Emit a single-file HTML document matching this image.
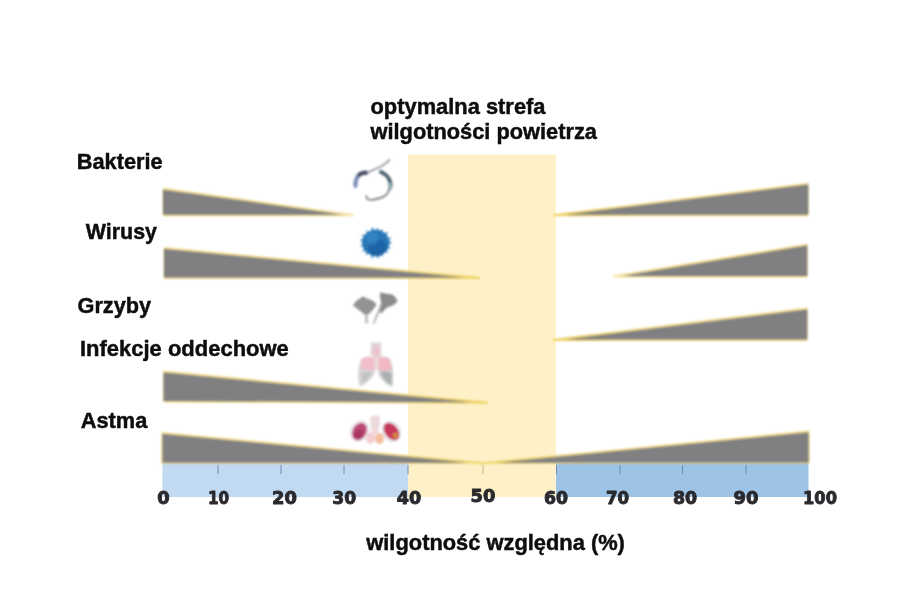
<!DOCTYPE html>
<html lang="pl">
<head>
<meta charset="utf-8">
<title>Optymalna strefa wilgotności powietrza</title>
<style>
  html,body{margin:0;padding:0;background:#fff;}
  body{width:915px;height:600px;overflow:hidden;position:relative;}
  svg{position:absolute;left:0;top:0;display:block;}
  text{font-family:"Liberation Sans",sans-serif;font-weight:bold;fill:#0a0a0a;}
  .ax text{font-family:"DejaVu Sans","Liberation Sans",sans-serif;font-weight:bold;fill:#2b2b2f;stroke:#2b2b2f;stroke-width:0.9px;stroke-linejoin:round;font-size:17px;text-anchor:middle;}
</style>
</head>
<body>
<svg width="915" height="600" viewBox="0 0 915 600">
  <defs>
    <linearGradient id="gga" gradientUnits="userSpaceOnUse" x1="162.5" y1="0" x2="808.5" y2="0"><stop offset="0" stop-color="#f3dc90"/><stop offset="0.33" stop-color="#f3dc90"/><stop offset="0.5" stop-color="#efd264"/><stop offset="0.67" stop-color="#f3dc90"/><stop offset="1" stop-color="#f3dc90"/></linearGradient>
    <linearGradient id="gg0" gradientUnits="userSpaceOnUse" x1="354" y1="0" x2="163" y2="0"><stop offset="0" stop-color="#f4e3a4"/><stop offset="0.35" stop-color="#f3dc90"/><stop offset="1" stop-color="#f3dc90"/></linearGradient>
    <linearGradient id="gg1" gradientUnits="userSpaceOnUse" x1="553" y1="0" x2="808.3" y2="0"><stop offset="0" stop-color="#efd264"/><stop offset="0.35" stop-color="#f3dc90"/><stop offset="1" stop-color="#f3dc90"/></linearGradient>
    <linearGradient id="gg2" gradientUnits="userSpaceOnUse" x1="480" y1="0" x2="164" y2="0"><stop offset="0" stop-color="#efd264"/><stop offset="0.35" stop-color="#f3dc90"/><stop offset="1" stop-color="#f3dc90"/></linearGradient>
    <linearGradient id="gg3" gradientUnits="userSpaceOnUse" x1="613" y1="0" x2="807.3" y2="0"><stop offset="0" stop-color="#f4e3a4"/><stop offset="0.35" stop-color="#f3dc90"/><stop offset="1" stop-color="#f3dc90"/></linearGradient>
    <linearGradient id="gg4" gradientUnits="userSpaceOnUse" x1="553" y1="0" x2="807.3" y2="0"><stop offset="0" stop-color="#efd264"/><stop offset="0.35" stop-color="#f3dc90"/><stop offset="1" stop-color="#f3dc90"/></linearGradient>
    <linearGradient id="gg5" gradientUnits="userSpaceOnUse" x1="488" y1="0" x2="163.5" y2="0"><stop offset="0" stop-color="#efd264"/><stop offset="0.35" stop-color="#f3dc90"/><stop offset="1" stop-color="#f3dc90"/></linearGradient>
    <filter id="soft" x="-5%" y="-5%" width="110%" height="110%"><feGaussianBlur stdDeviation="0.6"/></filter>
    <filter id="soft2" x="-5%" y="-5%" width="110%" height="110%"><feGaussianBlur stdDeviation="0.8"/></filter>
    <filter id="glowf" x="-5%" y="-5%" width="110%" height="110%"><feGaussianBlur stdDeviation="1.3"/></filter>
    <filter id="icoblur" x="-5%" y="-5%" width="110%" height="110%"><feGaussianBlur stdDeviation="0.9"/></filter>
    <filter id="icoblur2" x="-10%" y="-10%" width="120%" height="120%"><feGaussianBlur stdDeviation="0.7"/></filter>
    <filter id="txt" x="-5%" y="-20%" width="110%" height="140%"><feGaussianBlur stdDeviation="0.45"/></filter>
  </defs>
  <rect x="0" y="0" width="915" height="600" fill="#ffffff"/>

  <!-- axis bar -->
  <g filter="url(#soft)">
    <rect x="162.5" y="463" width="246" height="34" fill="#c1d9f1"/>
    <rect x="556" y="463" width="252.5" height="34" fill="#9dc3e6"/>
    <!-- optimal zone -->
    <rect x="408.1" y="154.5" width="147.7" height="342.5" fill="#fef1c8"/>
  </g>

  <!-- triangles -->
  <g id="glow" stroke-width="1.9" stroke-linejoin="miter" stroke-linecap="butt" filter="url(#glowf)">
    <path d="M163 188.8 L354 215.3 L163 215.3" fill="url(#gg0)" stroke="url(#gg0)"/>
    <path d="M808.3 183.6 L553 215.3 L808.3 215.3" fill="url(#gg1)" stroke="url(#gg1)"/>
    <path d="M164 248 L480 278 L164 278" fill="url(#gg2)" stroke="url(#gg2)"/>
    <path d="M807.3 244.6 L613 276.5 L807.3 276.5" fill="url(#gg3)" stroke="url(#gg3)"/>
    <path d="M807.3 308.4 L553 340 L807.3 340" fill="url(#gg4)" stroke="url(#gg4)"/>
    <path d="M163.5 371.5 L488 402.8 L163.5 401.5" fill="url(#gg5)" stroke="url(#gg5)"/>
    <path d="M162.5 463.4 L162.5 433 L483 463.3 L808.5 431.4 L808.5 463.4" fill="url(#gga)" stroke="url(#gga)"/>
  </g>
  <g id="tri" fill="#808082" filter="url(#soft2)">
    <polygon points="163.00,189.80 343.19,214.80 163.00,214.80"/>
    <polygon points="808.30,184.60 565.08,214.80 808.30,214.80"/>
    <polygon points="164.00,249.00 464.20,277.50 164.00,277.50"/>
    <polygon points="807.30,245.60 622.14,276.00 807.30,276.00"/>
    <polygon points="807.30,309.40 565.07,339.50 807.30,339.50"/>
    <polygon points="163.50,372.50 471.77,402.24 163.50,401.00"/>
    <polygon points="162.5,434.0 468,462.8 162.5,462.8"/>
    <polygon points="808.5,432.4 498,462.8 808.5,462.8"/>
  </g>

  <!-- icons -->
  <g id="icons" filter="url(#icoblur)">
    <!-- bacteria -->
    <g fill="none" stroke-linecap="round">
      <path d="M355.5 186 C355 178 359 172.5 366 172.5" stroke="#7d8fb8" stroke-width="4.2"/>
      <path d="M359 175 C361 173 363.5 172.6 366.5 172.8" stroke="#474e5e" stroke-width="3.8"/>
      <path d="M381 172 C387 174.5 391 180 390.5 186.5" stroke="#46606c" stroke-width="4"/>
      <path d="M390 184 C390.5 187 390 188.5 389.5 189" stroke="#8fb0b4" stroke-width="3.2"/>
      <path d="M389.5 189 C388 194 385 197 380 198 C375 199.5 369 200.5 367.5 199 C366.3 198 366.5 196.5 366.3 196" stroke="#85888f" stroke-width="1.9"/>
      <path d="M368 172.5 C373 169.5 378 168 382 166 C385 164 387.5 161.5 389.5 160" stroke="#8f929b" stroke-width="1.7"/>
    </g>
    <!-- virus -->
    <g>
      <polygon fill="#2b7cbb" points="388.9,241.3 392.3,242.7 389.0,244.1 388.3,245.9 391.1,248.4 387.3,248.5 386.6,249.7 388.3,252.9 384.7,251.8 382.3,253.3 382.2,256.4 379.7,254.4 379.0,254.9 378.1,258.8 376.1,255.3 374.2,255.4 371.9,258.9 371.3,254.8 369.0,253.1 365.4,255.3 366.8,251.4 366.2,250.8 362.2,251.8 364.6,248.6 363.8,246.7 360.1,246.2 363.2,244.1 362.5,241.9 359.6,240.0 363.0,239.2 364.0,237.5 361.5,234.4 365.5,235.2 367.1,233.8 366.1,230.2 369.4,232.2 371.4,230.9 371.9,226.7 374.3,230.3 375.8,230.7 377.6,227.5 378.6,231.0 379.9,230.9 382.4,229.3 382.6,232.1 384.1,233.5 388.2,231.7 386.1,235.5 387.2,237.9 392.0,237.8 388.0,240.4"/>
      <ellipse cx="375.7" cy="242.8" rx="13.6" ry="13" fill="#2576b7"/>
      <circle cx="377.5" cy="247.5" r="9" fill="#1a5c9f" opacity="0.7"/>
      <circle cx="372.5" cy="238.5" r="6.5" fill="#3d90ca" opacity="0.55"/>
    </g>
    <!-- fungi -->
    <g filter="url(#icoblur2)" opacity="0.88">
      <path d="M367.300 310 L368.300 323.500 L365 323.500 L364.800 310 Z" fill="#b9b9bb"/>
      <path d="M353 305.500 C355.500 300.500 359.500 298.500 361.500 297.500 C362.500 296 364.500 296.200 365.500 298 C370 299 375 301.500 376.500 304.500 C374.500 308.500 371 311.500 368.500 314.500 L364.500 314.500 C361.500 311.500 356.500 308.500 353 305.500 Z" fill="#858587"/>
      <path d="M382.500 305 C380 311 377 318 374.500 324 L372.800 323.200 C375.500 316 378.500 309 380.500 303.500 Z" fill="#aeaeb0"/>
      <path d="M379.800 292.500 C383 292.500 386 294 388.500 294.200 C392.500 293.500 395.500 297 397.500 301 C395.500 304.500 391 306.500 387 307.500 C385 309 383 311.500 381.500 313.500 L379.500 312 C380.800 308 381.500 305 381.300 302.500 C380.300 299.500 379.800 296 379.800 292.500 Z" fill="#7b7b7d"/>
    </g>
    <!-- lungs (infection) -->
    <g opacity="0.86">
      <path d="M371 342.500 L381 342.500 L381.500 356 L370.500 356 Z" fill="#dccdd1"/>
      <path d="M374 346 L378.500 346 L378.500 357 L374 357 Z" fill="#ebb7c2"/>
      <path d="M361.500 358.500 C364 356 370 356 374 357 L375 372 C373 378 366 384 359.500 386.500 C357.500 380 357.500 366 361.500 358.500 Z" fill="#d2cccf"/>
      <path d="M378 357 C382 356 388 356.500 390 359 C393.500 366 394 380 392 387 C387 385 381 380 378.500 374 Z" fill="#c6c4c7"/>
      <path d="M362 359 C365 356.500 370 356.500 374 357.500 L374.500 369 C371 371 365 370 361 368 C361 364 361 361 362 359 Z" fill="#f0b3c0"/>
      <path d="M378 357.500 C382 356.500 387 357 389.500 359.500 C391 363 391.500 367 391 370 C387 371.500 382 371 378.500 369 Z" fill="#f0adbb"/>
      <path d="M374 357 L378.500 357 L378.500 370 L374 370 Z" fill="#e8d2d2"/>
      <path d="M382 372 C385 371 389 372 391 374 L391.500 385 C388 383.500 384 379 382 375 Z" fill="#9aa4a2"/>
      <path d="M362 373 C365 371.500 369 372 371.500 373.500 C369.500 378 366 381 362 383 Z" fill="#b6bcb9"/>
    </g>
    <!-- asthma -->
    <g>
      <ellipse cx="359.500" cy="431" rx="9.500" ry="11" fill="#e9e5ea" transform="rotate(28 359.500 431)"/>
      <ellipse cx="391.500" cy="431.500" rx="9.500" ry="11" fill="#e9e5ea" transform="rotate(-32 391.500 431.500)"/>
      <ellipse cx="359.500" cy="431.500" rx="6.800" ry="9.200" fill="#bd4a78" transform="rotate(30 359.500 431.500)"/>
      <ellipse cx="358.500" cy="434" rx="4" ry="5" fill="#a8345f" transform="rotate(30 358.500 434)"/>
      <ellipse cx="391.500" cy="431.500" rx="6.500" ry="9.800" fill="#c8385c" transform="rotate(-38 391.500 431.500)"/>
      <ellipse cx="395.500" cy="435.500" rx="2.600" ry="3" fill="#d68a3c"/>
      <path d="M370.500 417 C373 415 378 415 380 417 C380.500 422 379.500 428 377.500 432 L372.500 432 C370.500 428 370 422 370.500 417 Z" fill="#ecd9dc"/>
      <ellipse cx="370.500" cy="438" rx="4.500" ry="6" fill="#f4cdd2"/>
      <ellipse cx="379.500" cy="438.500" rx="4.500" ry="5.600" fill="#f5c0a0"/>
      <ellipse cx="375" cy="431.500" rx="3.500" ry="3" fill="#f3d6d8"/>
    </g>
  </g>

  <!-- ticks -->
  <g stroke="#6483ab" stroke-width="0.9" filter="url(#soft)">
    <line x1="218" y1="465" x2="218" y2="474"/>
    <line x1="281" y1="465" x2="281" y2="474"/>
    <line x1="344" y1="465" x2="344" y2="474"/>
    <line x1="408" y1="465" x2="408" y2="474"/>
    <line x1="483" y1="465" x2="483" y2="474" stroke="#b9b08e"/>
    <line x1="556.5" y1="465" x2="556.5" y2="474"/>
    <line x1="620" y1="465" x2="620" y2="474"/>
    <line x1="682.5" y1="465" x2="682.5" y2="474"/>
    <line x1="746" y1="465" x2="746" y2="474"/>
  </g>

  <!-- axis numbers -->
  <g class="ax" filter="url(#txt)">
    <text x="163.5" y="503.5" textLength="12.4" lengthAdjust="spacingAndGlyphs">0</text>
    <text x="218.5" y="503.5" textLength="21.2" lengthAdjust="spacingAndGlyphs">10</text>
    <text x="284.5" y="503.5" textLength="24.9" lengthAdjust="spacingAndGlyphs">20</text>
    <text x="344.2" y="503.5" textLength="23.9" lengthAdjust="spacingAndGlyphs">30</text>
    <text x="409" y="503.5" textLength="24.5" lengthAdjust="spacingAndGlyphs">40</text>
    <text x="483" y="501.8" textLength="24.8" lengthAdjust="spacingAndGlyphs">50</text>
    <text x="556" y="503.5" textLength="24.1" lengthAdjust="spacingAndGlyphs">60</text>
    <text x="617.5" y="503.5" textLength="23.2" lengthAdjust="spacingAndGlyphs">70</text>
    <text x="685" y="503.5" textLength="24.2" lengthAdjust="spacingAndGlyphs">80</text>
    <text x="746" y="503.5" textLength="25.0" lengthAdjust="spacingAndGlyphs">90</text>
    <text x="820" y="503.5" textLength="33.9" lengthAdjust="spacingAndGlyphs">100</text>
  </g>

  <!-- labels -->
  <g filter="url(#txt)" font-size="21.3" stroke="#0a0a0a" stroke-width="0.42">
    <text x="370.5" y="114" textLength="175" lengthAdjust="spacingAndGlyphs">optymalna strefa</text>
    <text x="370.5" y="138.5" textLength="226.5" lengthAdjust="spacingAndGlyphs">wilgotności powietrza</text>
    <text x="76.8" y="168.7" textLength="85.9" lengthAdjust="spacingAndGlyphs">Bakterie</text>
    <text x="85.800" y="238.9" textLength="71.2" lengthAdjust="spacingAndGlyphs">Wirusy</text>
    <text x="77.5" y="312.8" textLength="73.6" lengthAdjust="spacingAndGlyphs">Grzyby</text>
    <text x="80" y="356.3" textLength="208.8" lengthAdjust="spacingAndGlyphs">Infekcje oddechowe</text>
    <text x="80.7" y="428.4" textLength="66.6" lengthAdjust="spacingAndGlyphs">Astma</text>
    <text x="366.3" y="549.5" textLength="258.6" lengthAdjust="spacingAndGlyphs">wilgotność względna (%)</text>
  </g>
</svg>
</body>
</html>
